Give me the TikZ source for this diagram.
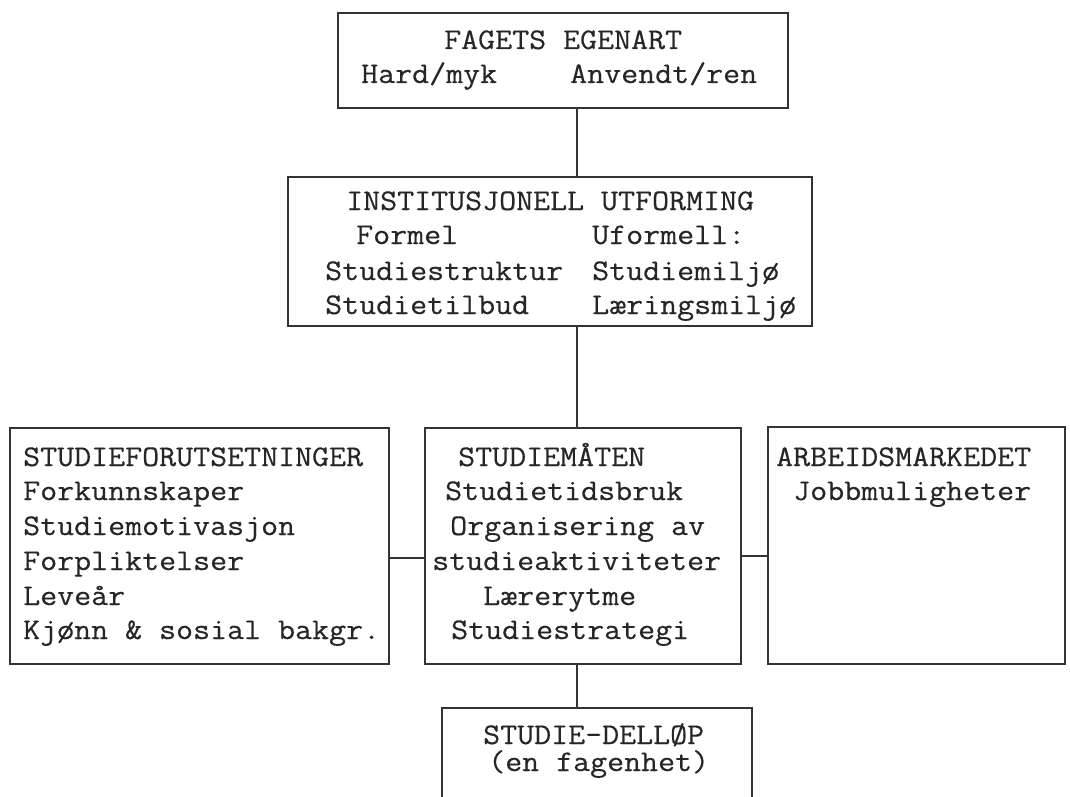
\documentclass[tikz,border=0pt]{standalone}
\usepackage{fontspec}
\setmonofont{Latin Modern Mono}[FakeStretch=1.1,FakeBold=0.4]
\usetikzlibrary{fit,calc}
\begin{document}
\begin{tikzpicture}[x=1pt,y=-1pt,
  frame/.style={draw=black!80, line width=2.3pt, inner sep=0pt},
  nofr/.style={inner sep=0pt},
  link/.style={draw=black!80, line width=2.5pt},
  txt/.style={anchor=base west, inner sep=0pt, font=\ttfamily\fontsize{30}{35}\selectfont, text=black!85}]
\useasboundingbox (0,0) rectangle (1070,797);
\fill[white] (0,0) rectangle (1070,797);
% boxes
\node[frame, fit={(338,13)(788,108)}] (top) {};
\node[frame, fit={(288,177)(812,326)}] (inst) {};
\node[frame, fit={(10,428)(389,664)}] (forut) {};
\node[frame, fit={(425,428)(741,664)}] (maate) {};
\node[frame, fit={(768,427)(1065,664)}] (arb) {};
\node[nofr, fit={(442,708)(752,800)}] (dell) {};
\draw[frame] (dell.south west) -- (dell.north west) -- (dell.north east) -- (dell.south east);
% connectors
\draw[link] (top.south) ++(14,0) coordinate (c1) -- (c1 |- inst.north);
\draw[link] (inst.south) ++(27,0) coordinate (c2) -- (c2 |- maate.north);
\draw[link] (maate.south) ++(-6,0) coordinate (c3) -- (c3 |- dell.north);
\draw[link] (forut.east) ++(0,12) coordinate (c4) -- (c4 -| maate.west);
\draw[link] (maate.east) ++(0,10) coordinate (c5) -- (c5 -| arb.west);
% texts: top
\node[txt] (t1) at (444,49) {FAGETS EGENART};
\node[txt] (t2) at (361,83) {Hard/myk};
\node[txt] (t3) at (570,83) {Anvendt/ren};
% institusjonell
\node[txt] (i1) at (346,210) {INSTITUSJONELL UTFORMING};
\node[txt] (i2) at (356,244) {Formel};
\node[txt] (i3) at (592,244) {Uformell:};
\node[txt] (i4) at (325,280) {Studiestruktur};
\node[txt] (i5) at (592,280) {Studiemiljø};
\node[txt] (i6) at (325,314) {Studietilbud};
\node[txt] (i7) at (592,314) {Læringsmiljø};
% studieforutsetninger
\node[txt] (f1) at (23,466) {STUDIEFORUTSETNINGER};
\node[txt] (f2) at (23,500) {Forkunnskaper};
\node[txt] (f3) at (23,535) {Studiemotivasjon};
\node[txt] (f4) at (23,570) {Forpliktelser};
\node[txt] (f5) at (23,605) {Leveår};
\node[txt] (f6) at (23,639) {Kjønn \& sosial bakgr.};
% studiemaaten
\node[txt] (m1) at (458,466) {STUDIEMÅTEN};
\node[txt] (m2) at (445,500) {Studietidsbruk};
\node[txt] (m3) at (450,535) {Organisering av};
\node[txt] (m4) at (432,570) {studieaktiviteter};
\node[txt] (m5) at (483,605) {Lærerytme};
\node[txt] (m6) at (451,639) {Studiestrategi};
% arbeidsmarkedet
\node[txt] (a1) at (776,466) {ARBEIDSMARKEDET};
\node[txt] (a2) at (793,500) {Jobbmuligheter};
% studie-delloep
\node[txt] (d1) at (483,744) {STUDIE-DELLØP};
\node[txt] (d2) at (488,771) {(en fagenhet)};
\end{tikzpicture}
\end{document}
